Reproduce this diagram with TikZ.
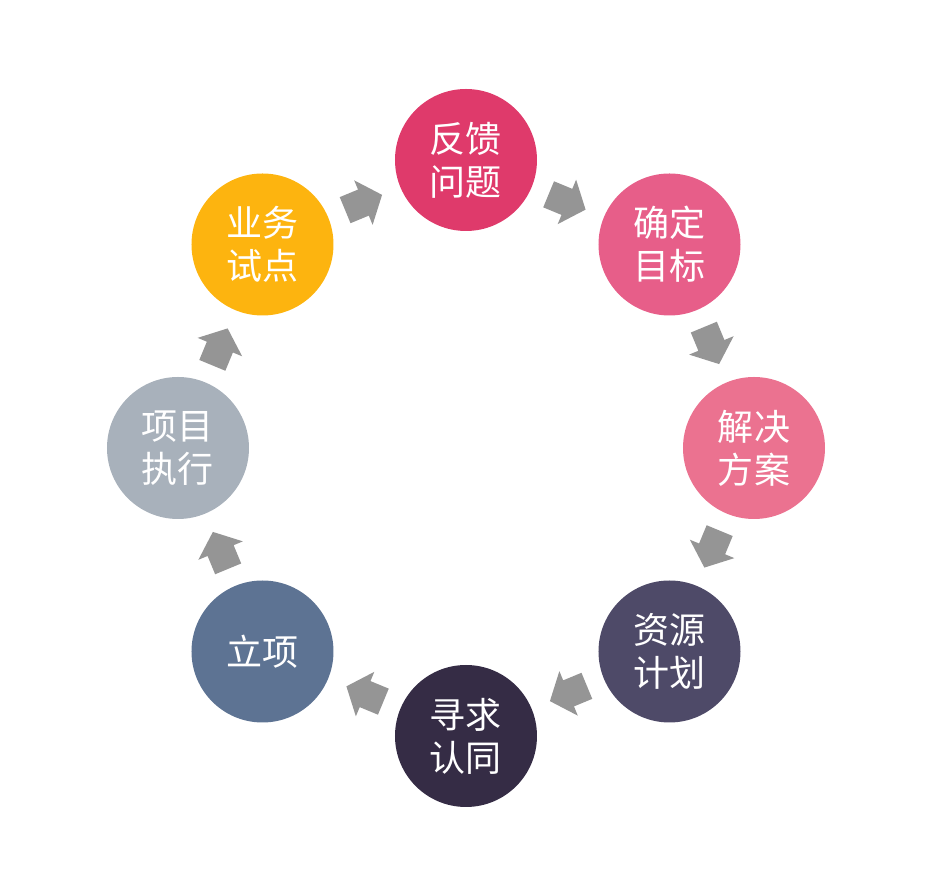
\documentclass[tikz,border=0pt]{standalone}
\usepackage{fontspec}
\setmainfont{Noto Sans CJK SC}
\usepackage{tkz-graph}
\usetikzlibrary{calc,shapes.arrows}

\definecolor{cA}{HTML}{DF3A6B}
\definecolor{cB}{HTML}{E75E89}
\definecolor{cC}{HTML}{EB7290}
\definecolor{cD}{HTML}{4E4A68}
\definecolor{cE}{HTML}{352C45}
\definecolor{cF}{HTML}{5D7393}
\definecolor{cG}{HTML}{A8B1BB}
\definecolor{cH}{HTML}{FDB40F}
\definecolor{cArr}{HTML}{959595}

\begin{document}
\begin{tikzpicture}
\def \rad {5.76}
\def \dg {4.07}
\def \mid {0.47}
\useasboundingbox (-9.32,-8.8) rectangle (9.32,8.96);
%\draw[help lines] (-9,-8) grid (9,8);
   \tikzset{VertexStyle/.style = {shape = circle, minimum size = 2.84cm, inner sep = 0pt, text = white, align = center, font = \fontsize{20.5}{24.5}\selectfont}}
   \Vertex[x=0 ,y=\rad ,L={反馈\\问题},style={fill=cA}]{A}
   \Vertex[x=\dg ,y=\dg ,L={确定\\目标},style={fill=cB}]{B}
   \Vertex[x=\rad ,y=0 ,L={解决\\方案},style={fill=cC}]{C}
   \Vertex[x=\dg ,y=-\dg ,L={资源\\计划},style={fill=cD}]{D}
   \Vertex[x=0 ,y=-\rad ,L={寻求\\认同},style={fill=cE}]{E}
   \Vertex[x=-\dg ,y=-\dg ,L={立项},style={fill=cF}]{F}
   \Vertex[x=-\rad ,y=0 ,L={项目\\执行},style={fill=cG}]{G}
   \Vertex[x=-\dg ,y=\dg ,L={业务\\试点},style={fill=cH}]{H}

\tikzset{ArrowStyle/.style = {shape = single arrow, fill = cArr, minimum height = 0.8cm, single arrow head extend = 0.2cm, single arrow tip angle = 100, inner xsep = 0pt, inner ysep = 0.275cm}}
   \node[ArrowStyle, rotate=-22.5] (a) at ($(A)!\mid!(B)$) {};
   \node[ArrowStyle, rotate=-67.5] (b) at ($(B)!\mid!(C)$) {};
   \node[ArrowStyle, rotate=-112.5] (c) at ($(C)!\mid!(D)$) {};
   \node[ArrowStyle, rotate=-157.5] (d) at ($(D)!\mid!(E)$) {};
   \node[ArrowStyle, rotate=157.5] (e) at ($(E)!\mid!(F)$) {};
   \node[ArrowStyle, rotate=112.5] (f) at ($(F)!\mid!(G)$) {};
   \node[ArrowStyle, rotate=67.5] (g) at ($(G)!\mid!(H)$) {};
   \node[ArrowStyle, rotate=22.5] (h) at ($(H)!\mid!(A)$) {};

\end{tikzpicture}
\end{document}
